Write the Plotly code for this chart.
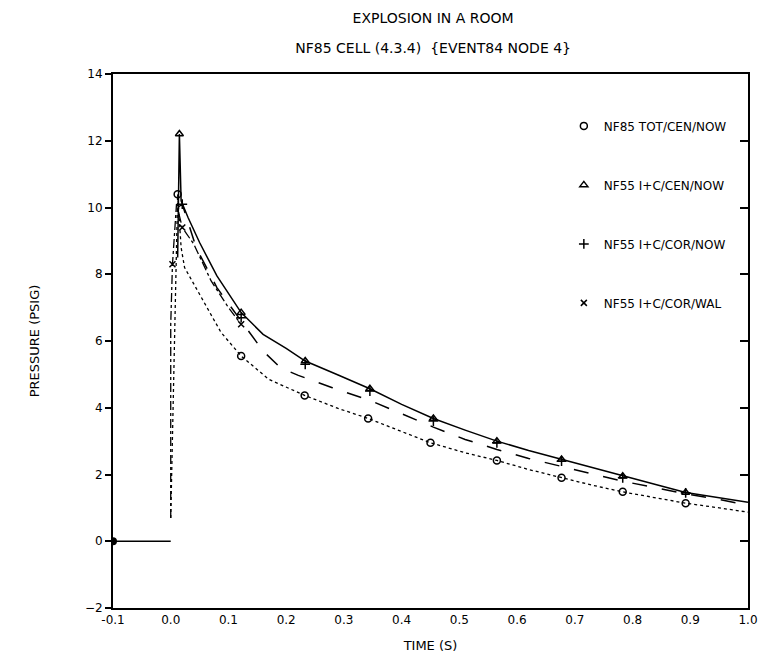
import plotly.graph_objects as go

# ---------------- data ----------------
# NF85 TOT/CEN/NOW  (dotted, circles)
tot_t = [0.0, 0.008, 0.012, 0.018, 0.024, 0.05, 0.087, 0.122, 0.17, 0.232, 0.29,
         0.342, 0.40, 0.45, 0.51, 0.565, 0.62, 0.677, 0.73, 0.783, 0.84, 0.892, 0.95, 1.0]
tot_p = [0.7, 7.8, 10.4, 8.8, 8.2, 7.4, 6.26, 5.55, 4.85, 4.37, 3.98,
         3.68, 3.28, 2.95, 2.65, 2.42, 2.15, 1.90, 1.68, 1.48, 1.30, 1.14, 1.0, 0.87]
tot_mark_t = [0.012, 0.122, 0.232, 0.342, 0.45, 0.565, 0.677, 0.783, 0.892]
tot_mark_p = [10.4, 5.55, 4.37, 3.68, 2.95, 2.42, 1.90, 1.48, 1.14]

# NF55 I+C/CEN/NOW  (solid, triangles)
cen_t = [-0.1, 0.0, None, 0.012, 0.015, 0.018, 0.03, 0.05, 0.08, 0.122, 0.16, 0.2, 0.233, 0.29,
         0.345, 0.40, 0.455, 0.51, 0.565, 0.62, 0.677, 0.73, 0.783, 0.84, 0.892, 0.95, 1.0]
cen_p = [0.0, 0.0, None, 8.5, 12.2, 10.2, 9.7, 8.95, 7.95, 6.85, 6.2, 5.78, 5.4, 4.98,
         4.57, 4.1, 3.68, 3.33, 3.0, 2.72, 2.45, 2.2, 1.95, 1.70, 1.46, 1.30, 1.17]
cen_mark_t = [0.015, 0.122, 0.233, 0.345, 0.455, 0.565, 0.677, 0.783, 0.892]
cen_mark_p = [12.2, 6.85, 5.4, 4.57, 3.68, 3.0, 2.45, 1.95, 1.46]

# NF55 I+C/COR/NOW  (long dash, plus)
cor_t = [0.012, 0.02, 0.044, 0.08, 0.122, 0.16, 0.19, 0.221, 0.28, 0.345, 0.40,
         0.455, 0.51, 0.565, 0.62, 0.677, 0.73, 0.783, 0.84, 0.892, 0.95, 1.0]
cor_p = [10.0, 10.1, 8.8, 7.6, 6.6, 5.7, 5.2, 4.97, 4.6, 4.22, 3.82,
         3.42, 3.05, 2.75, 2.48, 2.25, 2.02, 1.80, 1.60, 1.42, 1.25, 1.08]
cor_mark_t = [0.02, 0.122, 0.233, 0.345, 0.455, 0.565, 0.677, 0.783, 0.892]
cor_mark_p = [10.1, 6.7, 5.3, 4.5, 3.6, 2.95, 2.4, 1.9, 1.45]

# NF55 I+C/COR/WAL  (dash-dot, x)
wal_t = [0.0, 0.0, 0.003, 0.01, 0.02, 0.04, 0.07, 0.10, 0.122]
wal_p = [0.7, 6.5, 8.3, 10.1, 9.4, 8.9, 7.8, 7.0, 6.5]
wal_mark_t = [0.003, 0.02, 0.122]
wal_mark_p = [8.3, 9.4, 6.5]

start_t = [-0.1]
start_p = [0.0]

labels = ["NF85 TOT/CEN/NOW", "NF55 I+C/CEN/NOW", "NF55 I+C/COR/NOW", "NF55 I+C/COR/WAL"]
x_ticks = [-0.1, 0.0, 0.1, 0.2, 0.3, 0.4, 0.5, 0.6, 0.7, 0.8, 0.9, 1.0]
y_ticks = [-2, 0, 2, 4, 6, 8, 10, 12, 14]

# ---------------- figure ----------------
FONT = "DejaVu Sans"
fig = go.Figure()

line_specs = [
    (tot_t, tot_p, "dot", 1.3),
    (cen_t, cen_p, "solid", 1.5),
    (cor_t, cor_p, "longdash", 1.5),
    (wal_t, wal_p, "dashdot", 1.3),
]
for t, p, dash, w in line_specs:
    fig.add_trace(go.Scatter(x=t, y=p, mode="lines", showlegend=False, connectgaps=False,
                             line=dict(color="black", dash=dash, width=w)))

mark_specs = [
    (tot_mark_t, tot_mark_p, "circle-open", 7, labels[0]),
    (cen_mark_t, cen_mark_p, "triangle-up-open", 7, labels[1]),
    (cor_mark_t, cor_mark_p, "cross-thin-open", 7, labels[2]),
    (wal_mark_t, wal_mark_p, "x-thin-open", 6, labels[3]),
]
for i, (t, p, sym, sz, name) in enumerate(mark_specs):
    fig.add_trace(go.Scatter(x=t, y=p, mode="markers", name=name, legendgroup=str(i),
                             marker=dict(symbol=sym, size=sz, color="black",
                                         line=dict(color="black", width=1.5))))

# start point at (-0.1, 0)
fig.add_trace(go.Scatter(x=start_t, y=start_p, mode="markers", showlegend=False,
                         marker=dict(symbol="circle", size=8, color="black")))

fig.update_layout(
    width=770, height=668,
    margin=dict(l=113, r=17, t=74, b=60),
    paper_bgcolor="white", plot_bgcolor="white",
    font=dict(family=FONT, color="black", size=12),
    title=dict(text="EXPLOSION IN A ROOM",
               subtitle=dict(text="NF85 CELL (4.3.4)  {EVENT84 NODE 4}",
                             font=dict(family=FONT, size=14, color="black")),
               x=0.5625, xanchor="center", y=0.973, yanchor="middle",
               font=dict(family=FONT, size=14)),
    legend=dict(x=0.71, y=0.93, xanchor="left", yanchor="top",
                bgcolor="rgba(0,0,0,0)", tracegroupgap=40,
                font=dict(family=FONT, size=12), itemwidth=30),
    showlegend=True,
)
fig.update_xaxes(range=[-0.1, 1.0], tickvals=x_ticks, ticktext=[f"{v:.1f}" for v in x_ticks],
                 showgrid=False, zeroline=False, showline=True, linecolor="black",
                 linewidth=2, mirror=True, ticks="",
                 title=dict(text="TIME (S)", standoff=14, font=dict(family=FONT, size=13)),
                 tickfont=dict(family=FONT, size=12))
fig.update_yaxes(range=[-2, 14], tickvals=y_ticks, showgrid=False, zeroline=False,
                 showline=True, linecolor="black", linewidth=2, mirror=True,
                 ticks="outside", ticklen=6, tickwidth=1.5, tickcolor="black",
                 title=dict(text="PRESSURE (PSIG)", standoff=42, font=dict(family=FONT, size=13)),
                 tickfont=dict(family=FONT, size=12))

# inward ticks on the right-hand frame
fig.add_trace(go.Scatter(x=[None], y=[None], yaxis="y2", showlegend=False))
fig.update_layout(yaxis2=dict(overlaying="y", side="right", range=[-2, 14], tickvals=y_ticks,
                              showticklabels=False, ticks="inside", ticklen=8, tickwidth=1.5,
                              tickcolor="black", showgrid=False, zeroline=False, showline=False))

fig.write_html("out.html")
